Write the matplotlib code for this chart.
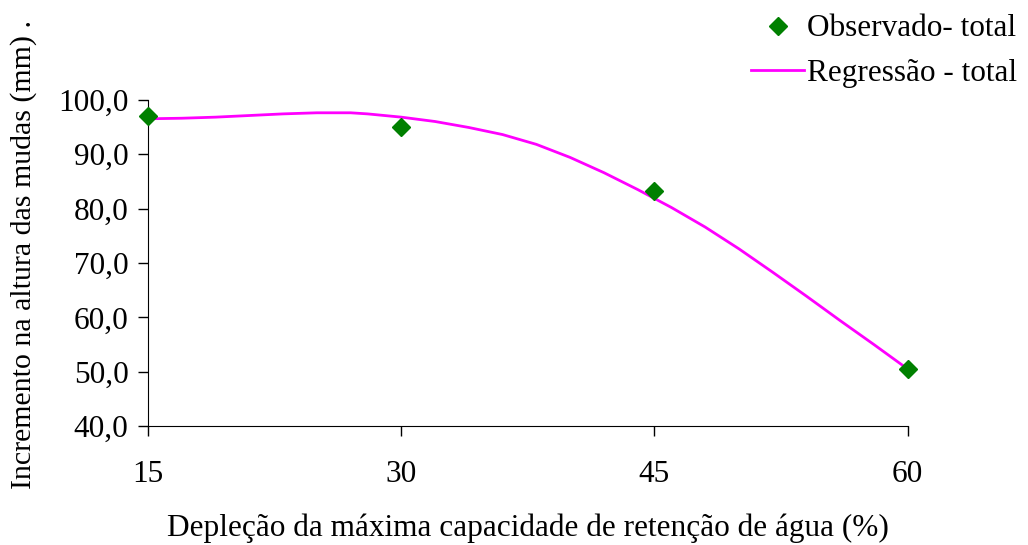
import matplotlib.pyplot as plt
from matplotlib.lines import Line2D

plt.rcParams['font.family'] = ['Liberation Serif', 'DejaVu Serif']

# observed values
obs_x = [15, 30, 45, 60]
obs_y = [97.0, 95.0, 83.3, 50.5]

# regression curve
reg_x = [15, 17, 19, 21, 23, 25, 27, 28, 29, 30, 32, 34, 36, 38, 40, 42, 44, 46, 48, 50,
         52, 54, 56, 58, 60]
reg_y = [96.5, 96.6, 96.8, 97.1, 97.4, 97.6, 97.6, 97.4, 97.1, 96.8, 96.0, 94.9, 93.6, 91.8,
         89.4, 86.6, 83.5, 80.2, 76.6, 72.6, 68.3, 63.9, 59.4, 55.0, 50.5]

xticks = [15, 30, 45, 60]
yticks = [40, 50, 60, 70, 80, 90, 100]

fs = 22.5

fig = plt.figure(figsize=(10.28, 5.45), dpi=100)
ax = fig.add_axes([0.144, 0.218, 0.739, 0.599])

ax.plot(reg_x, reg_y, color='#FF00FF', lw=2, zorder=2)
ax.plot(obs_x, obs_y, ls='none', marker='D', color='#008000', ms=9, zorder=3, clip_on=False)

ax.set_xlim(15, 60)
ax.set_ylim(40, 100)
ax.set_xticks(xticks)
ax.set_yticks(yticks)
ax.set_yticklabels([f'{v:.1f}'.replace('.', ',') for v in yticks])
ax.tick_params(labelsize=fs, length=7, width=1, direction='out')
ax.tick_params(axis='x', pad=17)
ax.tick_params(axis='y', pad=7)
for s in ['top', 'right']:
    ax.spines[s].set_visible(False)

ax.set_xlabel('Depleção da máxima capacidade de retenção de água (%)', fontsize=fs, labelpad=18)
ax.set_ylabel('Incremento na altura das mudas (mm) .', fontsize=21.5)
ax.yaxis.set_label_coords(-0.146, 0.525)

handles = [Line2D([], [], ls='none', marker='D', color='#008000', ms=9),
           Line2D([], [], color='#FF00FF', lw=2)]
fig.legend(handles, ['Observado- total', 'Regressão - total'], loc='upper right',
           bbox_to_anchor=(1.017, 1.025), frameon=False, fontsize=fs, handlelength=1.7,
           handletextpad=0.1, labelspacing=0.5)

fig.savefig('out.png', dpi=100)
